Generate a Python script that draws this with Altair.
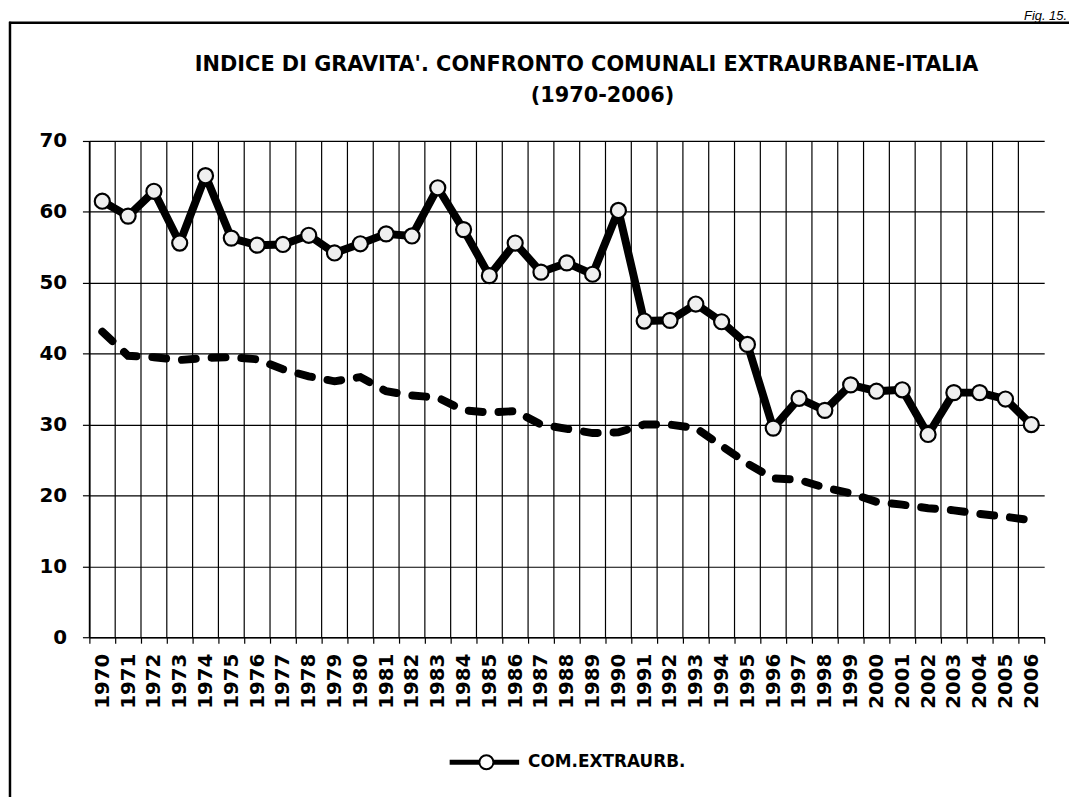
import altair as alt
import pandas as pd

# ---- data ----
anni = ["1970", "1971", "1972", "1973", "1974", "1975", "1976", "1977", "1978", "1979",
        "1980", "1981", "1982", "1983", "1984", "1985", "1986", "1987", "1988", "1989",
        "1990", "1991", "1992", "1993", "1994", "1995", "1996", "1997", "1998", "1999",
        "2000", "2001", "2002", "2003", "2004", "2005", "2006"]

com_extraurb = [61.5, 59.4, 62.9, 55.6, 65.1, 56.3, 55.3, 55.4, 56.7, 54.2,
                55.5, 56.9, 56.6, 63.4, 57.5, 51.0, 55.6, 51.5, 52.8, 51.2,
                60.2, 44.6, 44.7, 47.0, 44.5, 41.3, 29.5, 33.7, 32.0, 35.6,
                34.7, 34.9, 28.6, 34.5, 34.5, 33.6, 30.0]

italia = [43.1, 39.7, 39.5, 39.1, 39.4, 39.5, 39.2, 37.8, 36.8, 36.1,
          36.7, 34.7, 34.1, 33.8, 32.0, 31.7, 31.9, 30.0, 29.4, 28.8,
          28.9, 30.0, 30.0, 29.5, 27.0, 24.5, 22.4, 22.2, 21.1, 20.3,
          19.1, 18.7, 18.2, 17.9, 17.4, 17.0, 16.5]

y_ticks = [0, 10, 20, 30, 40, 50, 60, 70]

title_1 = "INDICE DI GRAVITA'. CONFRONTO COMUNALI EXTRAURBANE-ITALIA"
title_2 = "(1970-2006)"
legend_label = "COM.EXTRAURB."
fig_label = "Fig. 15."

FONT = "DejaVu Sans"
W, H = 962, 500

df = pd.DataFrame({"anno": anni, "extraurb": com_extraurb, "italia": italia})
one = pd.DataFrame({"k": [0]})

xscale = alt.Scale(paddingInner=0, paddingOuter=0)
yscale = alt.Scale(domain=[0, 70], nice=False)

x_axis = alt.Axis(
    title=None, labelAngle=-90, tickBand="extent", grid=False,
    domainColor="black", domainWidth=1.5, tickColor="black", tickWidth=1.2,
    tickSize=6, labelFont=FONT, labelFontWeight="bold", labelFontSize=20,
    labelColor="black", labelPadding=10,
)
x_enc = alt.X("anno:O", scale=xscale, sort=anni, axis=x_axis)
y_axis = alt.Axis(
    title=None, values=y_ticks, grid=True, gridColor="black", gridWidth=1.2,
    gridOpacity=1, domainColor="black", domainWidth=1.5, tickColor="black",
    tickWidth=1.2, tickSize=7, labelFont=FONT, labelFontWeight="bold",
    labelFontSize=20, labelColor="black", labelPadding=16,
)

base = alt.Chart(df)

vgrid = base.mark_rule(color="black", strokeWidth=1.2).encode(
    x=alt.X("anno:O", scale=xscale, sort=anni, bandPosition=0, axis=x_axis),
    y=alt.value(0), y2=alt.value(H),
)

dashed = base.mark_line(color="black", strokeWidth=8, strokeDash=[14, 16],
                        strokeCap="round").encode(
    x=x_enc, y=alt.Y("italia:Q", scale=yscale, axis=y_axis),
)

solid = base.mark_line(color="black", strokeWidth=8, strokeJoin="round").encode(
    x=x_enc, y=alt.Y("extraurb:Q", scale=yscale, axis=y_axis),
)

pts = base.mark_circle(size=230, color="#efefef", opacity=1, stroke="black",
                       strokeWidth=2.2).encode(
    x=x_enc, y=alt.Y("extraurb:Q", scale=yscale, axis=y_axis),
)

# titles
t1 = alt.Chart(one).mark_text(font=FONT, fontWeight="bold", fontSize=21,
                              color="black", align="center", baseline="alphabetic").encode(
    x=alt.value(501), y=alt.value(-71), text=alt.value(title_1))
t2 = alt.Chart(one).mark_text(font=FONT, fontWeight="bold", fontSize=21,
                              color="black", align="center", baseline="alphabetic").encode(
    x=alt.value(517), y=alt.value(-39), text=alt.value(title_2))

# outer frame
frame_top = alt.Chart(one).mark_rule(color="black", strokeWidth=2.5).encode(
    x=alt.value(-81), x2=alt.value(1000), y=alt.value(-119), y2=alt.value(-119))
frame_left = alt.Chart(one).mark_rule(color="black", strokeWidth=2.5).encode(
    x=alt.value(-80), x2=alt.value(-80), y=alt.value(-120), y2=alt.value(700))

fig_txt = alt.Chart(one).mark_text(font="Liberation Sans", fontStyle="italic",
                                   fontSize=13, color="black", align="right",
                                   baseline="alphabetic").encode(
    x=alt.value(985), y=alt.value(-122), text=alt.value(fig_label))

# legend
leg_line = alt.Chart(one).mark_rule(color="black", strokeWidth=5).encode(
    x=alt.value(363), x2=alt.value(433), y=alt.value(626), y2=alt.value(626))
leg_pt = alt.Chart(one).mark_circle(size=200, color="white", opacity=1,
                                    stroke="black", strokeWidth=2).encode(
    x=alt.value(400), y=alt.value(626))
leg_txt = alt.Chart(one).mark_text(font=FONT, fontWeight="bold", fontSize=17,
                                   color="black", align="left", baseline="middle").encode(
    x=alt.value(442), y=alt.value(626), text=alt.value(legend_label))

chart = alt.layer(
    vgrid, dashed, solid, pts, t1, t2, frame_top, frame_left, fig_txt,
    leg_line, leg_pt, leg_txt,
).properties(
    width=W, height=H, autosize="none",
    padding={"left": 82, "top": 131, "right": 25, "bottom": 158},
    background="white",
).configure_view(stroke=None)

chart.save("out.html", embed_options={"renderer": "svg", "actions": False})
